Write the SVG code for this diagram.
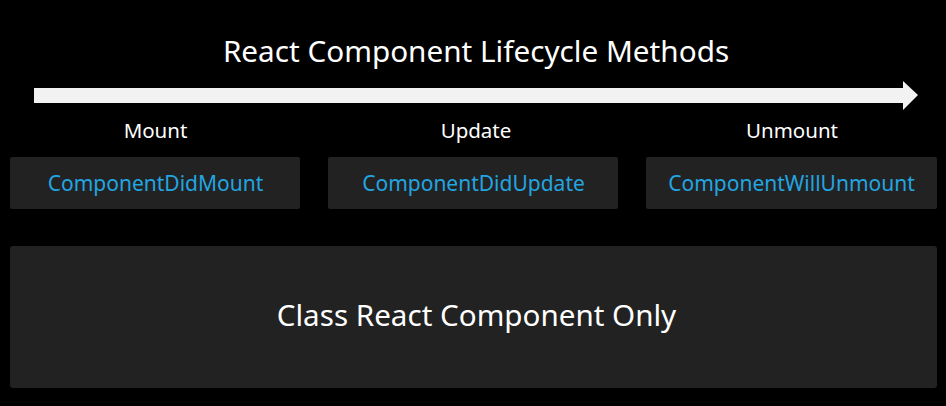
<svg xmlns="http://www.w3.org/2000/svg" width="946" height="406" viewBox="0 0 946 406">
<style>
text{font-family:"Noto Sans","Open Sans",sans-serif;text-anchor:middle;font-weight:400}
.t{fill:#ffffff;font-size:29.7px}
.p{fill:#ffffff;font-size:20.5px}
.m{fill:#22a5e0;font-size:21px}
.b{fill:#222222}
.big{fill:#ffffff;font-size:29.6px}
</style>
<rect width="946" height="406" fill="#000000"/>
<text class="t" x="476" y="62">React Component Lifecycle Methods</text>
<g id="connectors">
<polygon points="34,88 903,88 903,81 918,95 903,110 903,103 34,103" fill="#f2f2f2"/>
</g>
<g id="mount">
<text class="p" x="155.5" y="138">Mount</text>
<rect class="b" x="10" y="157" width="290" height="52" rx="2"/>
<text class="m" x="155.5" y="191">ComponentDidMount</text>
</g>
<g id="update">
<text class="p" x="476" y="138">Update</text>
<rect class="b" x="328" y="157" width="290" height="52" rx="2"/>
<text class="m" x="473.5" y="191">ComponentDidUpdate</text>
</g>
<g id="unmount">
<text class="p" x="792" y="138">Unmount</text>
<rect class="b" x="646" y="157" width="291" height="52" rx="2"/>
<text class="m" x="791.5" y="191">ComponentWillUnmount</text>
</g>
<g id="class">
<rect class="b" x="10" y="246" width="927" height="142" rx="3"/>
<text class="big" x="476.5" y="326">Class React Component Only</text>
</g>
</svg>
